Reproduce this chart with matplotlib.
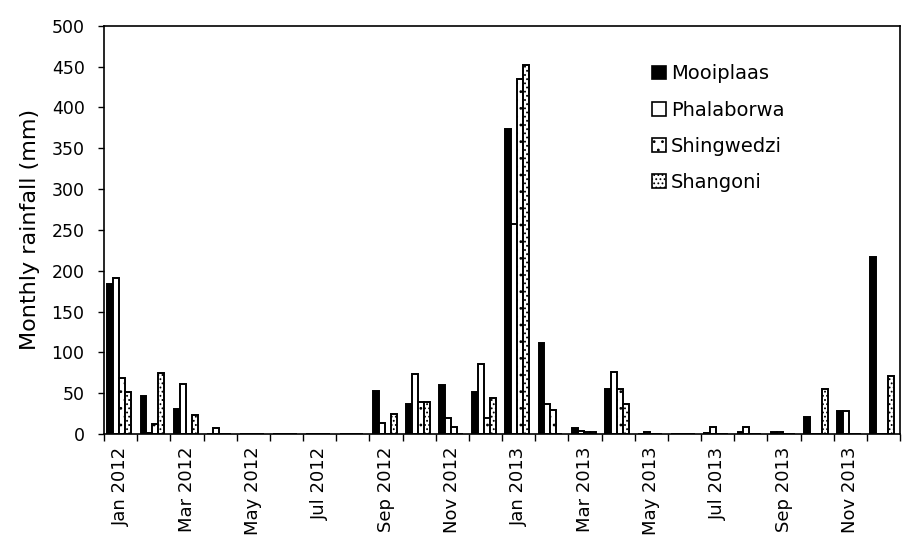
import matplotlib
matplotlib.use("Agg")
import matplotlib.pyplot as plt
import numpy as np
from matplotlib.patches import Patch

months = ["Jan 2012", "Feb 2012", "Mar 2012", "Apr 2012", "May 2012", "Jun 2012",
          "Jul 2012", "Aug 2012", "Sep 2012", "Oct 2012", "Nov 2012", "Dec 2012",
          "Jan 2013", "Feb 2013", "Mar 2013", "Apr 2013", "May 2013", "Jun 2013",
          "Jul 2013", "Aug 2013", "Sep 2013", "Oct 2013", "Nov 2013", "Dec 2013"]

mooiplaas = [184, 47, 31, 0, 0, 0, 0, 0, 53, 37, 60, 51,
             374, 112, 7, 55, 0, 0, 1, 2, 2, 21, 28, 217]
phalaborwa = [191, 1, 61, 7, 0, 0, 0, 0, 14, 74, 20, 86,
              257, 37, 4, 76, 2, 0, 8, 8, 2, 0, 28, 0]
shingwedzi = [68, 12, 0, 0, 0, 0, 0, 0, 0, 39, 9, 20,
              435, 29, 2, 55, 0, 0, 0, 0, 0, 0, 0, 0]
shangoni = [52, 75, 23, 0, 0, 0, 0, 0, 24, 39, 0, 44,
            452, 0, 2, 37, 0, 0, 0, 0, 0, 55, 0, 71]

series_names = ["Mooiplaas", "Phalaborwa", "Shingwedzi", "Shangoni"]
series_vals = [mooiplaas, phalaborwa, shingwedzi, shangoni]
faces = ["black", "white", "white", "white"]
hatches = [None, None, "..", "...."]

plt.rcParams["font.family"] = ["DejaVu Sans"]
plt.rcParams["hatch.linewidth"] = 0.8

fig = plt.figure(figsize=(9.03, 5.40), dpi=100)
ax = fig.add_axes([0.1152, 0.1963, 0.8815, 0.7561])

x = np.arange(len(months))
w = 0.18
for i, (name, vals) in enumerate(zip(series_names, series_vals)):
    ax.bar(x + (i - 1.5) * w - 0.04, vals, width=w, color=faces[i], edgecolor="black",
           linewidth=1.4, hatch=hatches[i], label=name)

ax.set_xlim(-0.5, len(months) - 0.5)
ax.set_ylim(0, 500)
ax.set_yticks(np.arange(0, 501, 50))
ax.tick_params(axis="y", labelsize=12.5, length=4, width=1, direction="out", pad=10)

ax.set_xticks(np.arange(-0.5, len(months), 1.0))
ax.set_xticklabels([])
ax.tick_params(axis="x", which="major", length=5, width=1, direction="out")
ax.set_xticks(x[::2], minor=True)
ax.set_xticklabels(months[::2], minor=True, rotation=90, fontsize=13)
ax.tick_params(axis="x", which="minor", length=0, pad=9)

for s in ax.spines.values():
    s.set_linewidth(1.2)

ax.set_ylabel("Monthly rainfall (mm)", fontsize=16, labelpad=8)

handles = [Patch(facecolor=faces[i], edgecolor="black", hatch=hatches[i], linewidth=1.2)
           for i in range(4)]
leg = fig.legend(handles, series_names, loc="upper left", bbox_to_anchor=(0.703, 0.913),
                 frameon=False, fontsize=14, handlelength=0.7, handleheight=0.7,
                 handletextpad=0.25, labelspacing=0.88)

fig.savefig("out.png", dpi=100)
